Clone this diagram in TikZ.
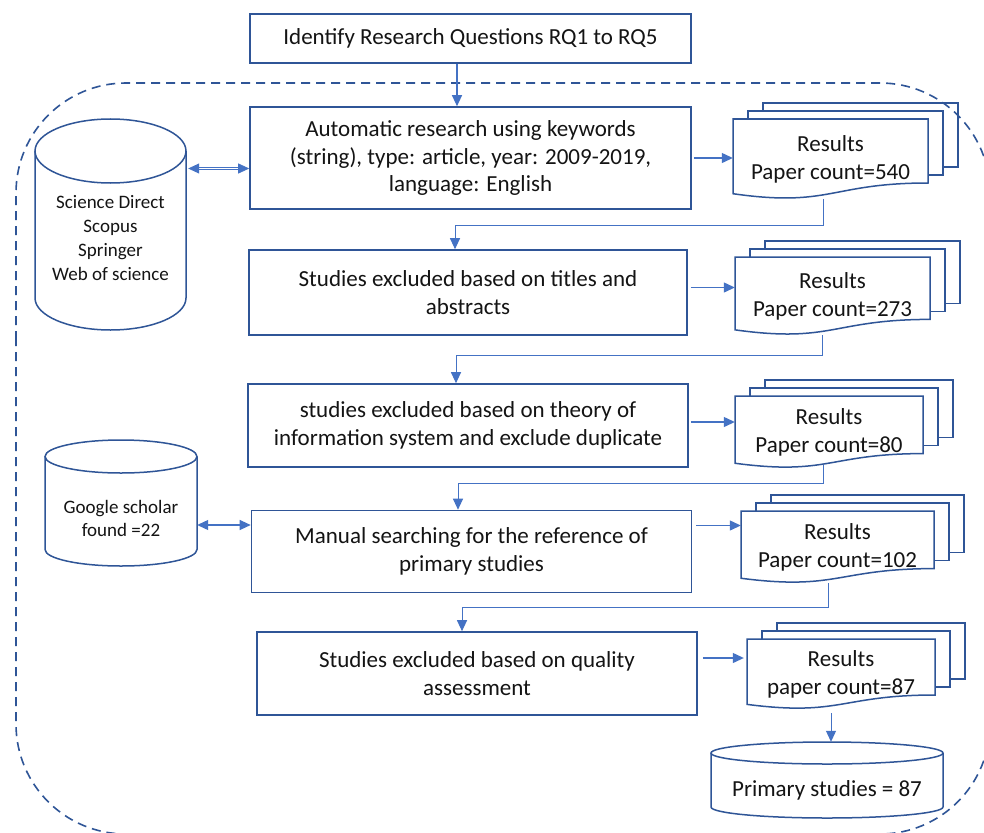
\documentclass[tikz,border=0pt]{standalone}
\usepackage{fontspec}
\setmainfont{Carlito}
\usetikzlibrary{arrows.meta,calc}
\definecolor{boxblue}{RGB}{47,85,151}
\definecolor{arrblue}{RGB}{68,114,196}
\definecolor{txt}{RGB}{20,20,20}
\tikzset{
  box/.style={draw=boxblue, line width=1.6pt, fill=white, text=txt, align=center,
    font=\fontsize{23}{27.5}\selectfont, inner sep=0pt},
  docline/.style={draw=boxblue, line width=1.5pt, fill=white},
  doctext/.style={text=txt, align=center, font=\fontsize{23}{28}\selectfont, inner sep=0pt},
  cyltext/.style={text=txt, align=center, inner sep=0pt},
  cylline/.style={draw=boxblue, line width=1.5pt, fill=white},
  dashline/.style={draw=boxblue, line width=1.6pt, dash pattern=on 9pt off 6pt},
  tip/.tip={Triangle[length=11pt,width=10pt]},
  arr/.style={draw=arrblue, line width=1.2pt, -tip},
  conn/.style={draw=arrblue, line width=1pt, -tip},
  dblarr/.style={draw=arrblue, line width=0.8pt, double=white, double distance=1.8pt, tip-tip},
  sglarr/.style={draw=arrblue, line width=1.2pt, tip-tip}
}
% name, left, top, width, height, text
\newcommand\resstack[6]{%
  \draw[docline] ({#2+30},{#3-16}) rectangle ++(#4,{0.8*#5});
  \draw[docline] ({#2+15},{#3-8}) rectangle ++(#4,{0.8*#5});
  \draw[docline] (#2,#3) -- ++(#4,0) -- ++(0,{0.8*#5})
    .. controls ({#2+#4/2},{#3+0.8*#5}) and ({#2+#4/2},{#3+1.108*#5}) .. (#2,{#3+0.934*#5}) -- cycle;
  \node[doctext, minimum width=#4pt, minimum height=#5pt] (#1) at ({#2+#4/2},{#3+#5/2}) {#6};
}
% left, top, width, height, ry
\newcommand\dbcyl[5]{%
  \draw[cylline] (#1,{#2+#5}) -- (#1,{#2+#4-#5})
    .. controls (#1,{#2+#4-#5+0.5523*#5}) and ({#1+#3/2-0.5523*#3/2},{#2+#4}) .. ({#1+#3/2},{#2+#4})
    .. controls ({#1+#3/2+0.5523*#3/2},{#2+#4}) and ({#1+#3},{#2+#4-#5+0.5523*#5}) .. ({#1+#3},{#2+#4-#5})
    -- ({#1+#3},{#2+#5});
  \draw[cylline] ({#1+#3/2},{#2+#5}) ellipse [x radius={#3/2}, y radius=#5];
}
\begin{document}
\begin{tikzpicture}[x=1pt,y=-1pt]
\useasboundingbox[fill=white] (0,0) rectangle (984,832);

% main boxes
\node[box, minimum width=441pt, minimum height=49pt] (q) at (470.5,38.5) {Identify Research Questions RQ1 to RQ5};
\node[box, minimum width=441pt, minimum height=102pt] (b1) at (470.5,158) {Automatic research using keywords\\(string), type: article, year: 2009-2019,\\language: English};
\node[box, minimum width=438pt, minimum height=85pt] (b2) at (468,292.5) {Studies excluded based on titles and\\abstracts};
\node[box, minimum width=440pt, minimum height=83pt] (b3) at (468,425.5) {studies excluded based on theory of\\information system and exclude duplicate};
\node[box, minimum width=440pt, minimum height=82pt] (b4) at (471.5,551.5) {Manual searching for the reference of\\primary studies};
\node[box, minimum width=440pt, minimum height=83pt] (b5) at (477,673.5) {Studies excluded based on quality\\assessment};

% result stacks
\resstack{r1}{733}{119}{195}{80}{Results\\Paper count=540}
\resstack{r2}{735}{257}{195}{78}{Results\\Paper count=273}
\resstack{r3}{735}{396}{188}{72}{Results\\Paper count=80}
\resstack{r4}{741}{511}{193}{72}{Results\\Paper count=102}
\resstack{r5}{747}{639}{188}{70}{Results\\paper count=87}

% dashed outline
\draw[dashline, rounded corners=110pt] (16,450) -- (16,83) -- (990,83) -- (990,834) -- (16,834) -- cycle;

% cylinders
\dbcyl{35}{119}{151}{211}{32}
\node[cyltext, font=\fontsize{19}{24}\selectfont, minimum width=151pt] (c1) at (110.5,238.5) {Science Direct\\Scopus\\Springer\\Web of science};
\dbcyl{45}{440}{152}{126}{16.5}
\node[cyltext, font=\fontsize{19}{23.5}\selectfont, minimum width=152pt] (c2) at (121,518.5) {Google scholar\\found =22};
\dbcyl{711}{742}{232}{76}{11}
\node[cyltext, font=\fontsize{23}{28}\selectfont, minimum width=232pt, minimum height=96pt] (c3) at (827,790) {Primary studies = 87};

% connectors
\draw[arr] ([xshift=-13.5pt]q.south) -- ([xshift=-13.5pt]b1.north);
\draw[conn] ([xshift=-7.5pt]r1.south) -- ++(0,26) -| ([xshift=-13pt]b2.north);
\draw[conn] ([xshift=-10pt]r2.south) -- ++(0,20) -| ([xshift=-12pt]b3.north);
\draw[conn] ([xshift=-6pt,yshift=3pt]r3.south) -- ++(0,18) -| ([xshift=-13.5pt]b4.north);
\draw[conn] ([xshift=-9.5pt]r4.south) -- ++(0,24) -| ([xshift=-15pt]b5.north);
\draw[conn] ([xshift=-10pt,yshift=-4pt]r5.south) -- ([xshift=-10pt]r5.south |- c3.north);

\draw[arr] ([xshift=2pt]b1.east) -- (b1.east -| r1.west);
\draw[arr] ($(b2.east)+(3,-5)$) coordinate (t2) -- (t2 -| r2.west);
\draw[arr] ($(b3.east)+(2,-3.5)$) coordinate (t3) -- (t3 -| r3.west);
\draw[arr] ($(b4.east)+(4,-26)$) coordinate (t4) -- (t4 -| r4.west);
\draw[arr] ($(b5.east)+(5,-15.5)$) coordinate (t5) -- ($(t5 -| r5.west)+(-3,0)$);

\draw[dblarr] ($(c1.east)+(2,-70)$) coordinate (d1) -- (d1 -| b1.west);
\draw[sglarr] ($(c2.east)+(0,6.5)$) coordinate (d2) -- (d2 -| b4.west);
\end{tikzpicture}
\end{document}
